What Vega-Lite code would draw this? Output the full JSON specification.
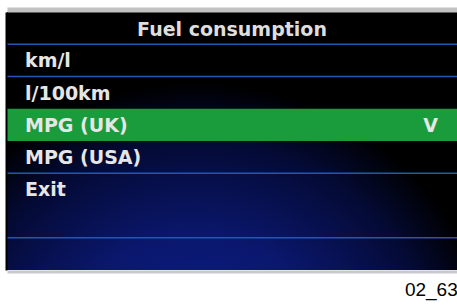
{
  "$schema": "https://vega.github.io/schema/vega-lite/v6.json",
  "width": 450,
  "height": 258,
  "autosize": {"type": "none"},
  "padding": {"left": 7, "top": 12, "right": 0, "bottom": 36},
  "background": "#ffffff",
  "view": {
    "stroke": null,
    "fill": {
      "gradient": "radial",
      "x1": 0.42, "y1": 1.05, "r1": 0,
      "x2": 0.42, "y2": 1.05, "r2": 0.85,
      "stops": [
        {"offset": 0, "color": "#0d22a6"},
        {"offset": 0.4, "color": "#0a176c"},
        {"offset": 0.65, "color": "#040a34"},
        {"offset": 0.8, "color": "#000000"},
        {"offset": 1, "color": "#000000"}
      ]
    }
  },
  "title": {
    "text": "02_63",
    "orient": "bottom",
    "anchor": "end",
    "font": "Liberation Sans",
    "fontSize": 19,
    "fontWeight": "normal",
    "color": "#000000",
    "baseline": "alphabetic",
    "offset": 24
  },
  "config": {
    "axisY": {
      "domainColor": "#000000",
      "domainWidth": 2,
      "offset": 1,
      "labels": false,
      "ticks": false,
      "grid": false,
      "title": null
    }
  },
  "data": {
    "values": [
      {"row": 0, "label": "Fuel consumption", "kind": "header", "selected": false, "divider": true, "check": ""},
      {"row": 1, "label": "km/l", "kind": "item", "selected": false, "divider": true, "check": ""},
      {"row": 2, "label": "l/100km", "kind": "item", "selected": false, "divider": false, "check": ""},
      {"row": 3, "label": "MPG (UK)", "kind": "item", "selected": true, "divider": false, "check": "V"},
      {"row": 4, "label": "MPG (USA)", "kind": "item", "selected": false, "divider": true, "check": ""},
      {"row": 5, "label": "Exit", "kind": "item", "selected": false, "divider": false, "check": ""},
      {"row": 6, "label": "", "kind": "blank", "selected": false, "divider": true, "check": ""},
      {"row": 7, "label": "", "kind": "blank", "selected": false, "divider": false, "check": ""}
    ]
  },
  "encoding": {
    "y": {
      "field": "row",
      "type": "ordinal",
      "scale": {"type": "band", "paddingInner": 0, "paddingOuter": 0, "domain": [0, 1, 2, 3, 4, 5, 6, 7]}
    }
  },
  "layer": [
    {
      "transform": [{"filter": "datum.selected"}],
      "mark": {"type": "rect", "color": "#1a9b3c"}
    },
    {
      "transform": [{"filter": "datum.divider"}],
      "mark": {"type": "rule", "color": "#2456b4", "strokeWidth": 1.5},
      "encoding": {
        "y": {"field": "row", "type": "ordinal", "bandPosition": 1}
      }
    },
    {
      "transform": [{"filter": "datum.kind === 'header'"}],
      "mark": {"type": "text", "font": "DejaVu Sans", "fontSize": 19, "fontWeight": "bold", "color": "#dedede", "align": "center", "baseline": "middle", "dy": 2},
      "encoding": {
        "x": {
          "datum": "label",
          "type": "nominal",
          "bandPosition": 1,
          "scale": {"type": "band", "domain": ["label", "check"], "paddingInner": 0, "paddingOuter": 0},
          "axis": {"orient": "top", "domainColor": "#c2c2c2", "domainWidth": 5, "offset": 2.5, "labels": false, "ticks": false, "grid": false, "title": null}
        },
        "text": {"field": "label"}
      }
    },
    {
      "transform": [{"filter": "datum.kind === 'item'"}],
      "mark": {"type": "text", "font": "DejaVu Sans", "fontSize": 19, "fontWeight": "bold", "color": "#e6e6e6", "align": "left", "baseline": "middle", "dx": 18, "dy": 1},
      "encoding": {
        "x": {"datum": "label", "type": "nominal", "bandPosition": 0, "axis": null},
        "text": {"field": "label"}
      }
    },
    {
      "transform": [{"filter": "datum.check !== ''"}],
      "mark": {"type": "text", "font": "DejaVu Sans", "fontSize": 19, "fontWeight": "bold", "color": "#e6e6e6", "align": "right", "baseline": "middle", "dx": -19, "dy": 1},
      "encoding": {
        "x": {
          "datum": "check",
          "type": "nominal",
          "bandPosition": 1,
          "axis": {"orient": "bottom", "domainColor": "#c8c8cc", "domainWidth": 3, "offset": 1.5, "labels": false, "ticks": false, "grid": false, "title": null}
        },
        "text": {"field": "check"}
      }
    }
  ],
  "resolve": {"axis": {"x": "independent"}}
}
